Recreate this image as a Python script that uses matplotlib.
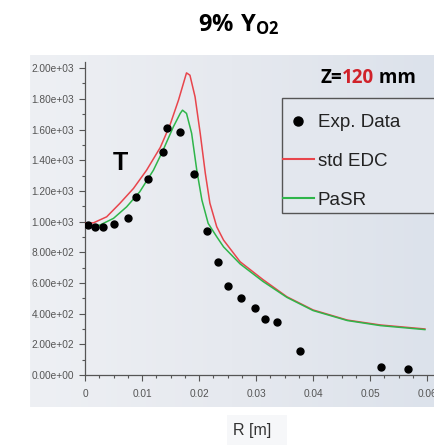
import numpy as np
import matplotlib
matplotlib.use("Agg")
import matplotlib.pyplot as plt
from matplotlib.ticker import MultipleLocator, FuncFormatter
from matplotlib.offsetbox import TextArea, HPacker, AnchoredOffsetbox
from matplotlib.lines import Line2D
from matplotlib.patches import Rectangle
from matplotlib.colors import LinearSegmentedColormap

# ---- data ----
R_exp = [0.0005, 0.0018, 0.0032, 0.0051, 0.0075, 0.0089, 0.0111, 0.0137, 0.0144, 0.0167,
         0.0191, 0.0214, 0.0233, 0.0251, 0.0274, 0.0298, 0.0316, 0.0337, 0.0377, 0.0519, 0.0567]
T_exp = [977, 964, 964, 984, 1023, 1160, 1277, 1453, 1609, 1583,
         1309, 938, 736, 580, 502, 436, 365, 345, 156, 52, 39]

R_edc = [0.0, 0.0015, 0.0038, 0.0061, 0.0085, 0.0108, 0.0132, 0.0149, 0.0164, 0.0178,
         0.0184, 0.0193, 0.0202, 0.0211, 0.0219, 0.0231, 0.0243, 0.0272, 0.0312, 0.0354,
         0.0400, 0.0460, 0.0518, 0.0596]
T_edc = [990, 992, 1031, 1118, 1216, 1335, 1483, 1629, 1792, 1969,
         1954, 1813, 1576, 1314, 1120, 966, 879, 738, 622, 510,
         424, 358, 326, 300]

R_pasr = [0.0, 0.0026, 0.0050, 0.0073, 0.0096, 0.0120, 0.0137, 0.0155, 0.0167, 0.0171,
          0.0178, 0.0187, 0.0196, 0.0205, 0.0216, 0.0231, 0.0243, 0.0272, 0.0312, 0.0354,
          0.0400, 0.0460, 0.0518, 0.0596]
T_pasr = [966, 977, 1021, 1096, 1194, 1335, 1466, 1618, 1705, 1726,
          1705, 1575, 1335, 1140, 988, 901, 835, 724, 610, 506,
          420, 355, 322, 296]

x_ticks = [0, 0.01, 0.02, 0.03, 0.04, 0.05, 0.06]
x_tick_labels = ["0", "0.01", "0.02", "0.03", "0.04", "0.05", "0.06"]
y_ticks = [0, 200, 400, 600, 800, 1000, 1200, 1400, 1600, 1800, 2000]

W, H = 434, 445
fig = plt.figure(figsize=(W / 100, H / 100), dpi=100)
fig.patch.set_facecolor("white")

plt.rcParams["mathtext.fontset"] = "custom"
plt.rcParams["mathtext.rm"] = "Open Sans"
plt.rcParams["mathtext.bf"] = "Open Sans:bold"

# panel background (gradient)
bg = fig.add_axes([30 / W, 1 - 407 / H, (W - 30) / W, (407 - 55) / H], zorder=0)
grad = np.linspace(0, 1, 256)[None, :]
cmap = LinearSegmentedColormap.from_list("bg", ["#eef0f4", "#e6e9ef", "#dce2eb"])
bg.imshow(grad, aspect="auto", cmap=cmap, extent=[0, 1, 0, 1])
bg.set_axis_off()

# x-label lighter box
fig.patches.append(Rectangle((227 / W, 1 - 445 / H), 60 / W, 30 / H, transform=fig.transFigure,
                             facecolor="#f6f7f9", edgecolor="none", zorder=0))

ax = fig.add_axes([85 / W, 1 - 375 / H, (W - 85) / W, (375 - 62) / H], zorder=1)
ax.patch.set_alpha(0)
ax.set_xlim(0, 0.0612)
ax.set_ylim(0, 2040)

ax.plot(R_edc, T_edc, color="#e8454c", lw=1.1, zorder=3)
ax.plot(R_pasr, T_pasr, color="#2fb54a", lw=1.1, zorder=3)
ax.plot(R_exp, T_exp, "o", color="black", ms=5, zorder=4)

for s in ["top", "right"]:
    ax.spines[s].set_visible(False)
for s in ["left", "bottom"]:
    ax.spines[s].set_color("#555555")
    ax.spines[s].set_linewidth(0.9)

ax.set_xticks(x_ticks)
ax.set_xticklabels(x_tick_labels)
ax.xaxis.set_minor_locator(MultipleLocator(0.0025))
ax.set_yticks(y_ticks)
ax.yaxis.set_major_formatter(FuncFormatter(lambda v, p: "%.2e" % v))
ax.yaxis.set_minor_locator(MultipleLocator(100))
ax.tick_params(which="both", direction="out", colors="#555555", width=0.8)
ax.tick_params(which="major", length=4, labelsize=7.3, labelcolor="#555555")
ax.tick_params(which="minor", length=2.5)
ax.tick_params(axis="x", pad=6)
ax.tick_params(axis="y", pad=4)
for lab in ax.get_xticklabels() + ax.get_yticklabels():
    lab.set_fontfamily("Liberation Sans")

fig.text(252 / W, 1 - 430 / H, "R [m]", ha="center", va="center", fontsize=11.5,
         color="#333333", family="Liberation Sans")

# T label
fig.text(120 / W, 1 - 163 / H, "T", ha="center", va="center", fontsize=18,
         color="black", family="Liberation Sans", fontweight="bold")

# title
fig.text(239 / W, 1 - 25 / H, r"$\mathbf{9\%\ Y_{O2}}$", ha="center", va="center",
         fontsize=17, color="black")

# Z=120 mm
tp = dict(fontsize=13.5, fontweight="bold", family="Open Sans")
parts = HPacker(children=[
    TextArea("Z=", textprops=dict(color="black", **tp)),
    TextArea("120", textprops=dict(color="#d0222a", **tp)),
    TextArea(" mm", textprops=dict(color="black", **tp)),
], align="baseline", pad=0, sep=0)
ab = AnchoredOffsetbox(loc="center", child=parts, pad=0, frameon=False,
                       bbox_to_anchor=(368 / W, 1 - 78 / H), bbox_transform=fig.transFigure)
fig.add_artist(ab)

# legend frame (extends past the right edge)
fig.patches.append(Rectangle((282 / W, 1 - 213 / H), 160 / W, (213 - 98) / H,
                             transform=fig.transFigure, facecolor="#e3e7ee",
                             edgecolor="#555555", linewidth=1.0, zorder=2))

handles = [Line2D([], [], ls="none", marker="o", color="black", ms=6.5),
           Line2D([], [], color="#e8454c", lw=1.5),
           Line2D([], [], color="#2fb54a", lw=1.5)]
labels = ["Exp. Data", "std EDC", "PaSR"]
leg = fig.legend(handles, labels, loc="upper left",
                 bbox_to_anchor=(283 / W, 1 - 114 / H), frameon=False, borderpad=0,
                 handlelength=1.65, handletextpad=0.2, labelspacing=1.16,
                 borderaxespad=0, prop=dict(family="Liberation Sans", size=13.5))
leg.set_zorder(3)
for t in leg.get_texts():
    t.set_color("#222222")

fig.savefig("out.png", dpi=100)
